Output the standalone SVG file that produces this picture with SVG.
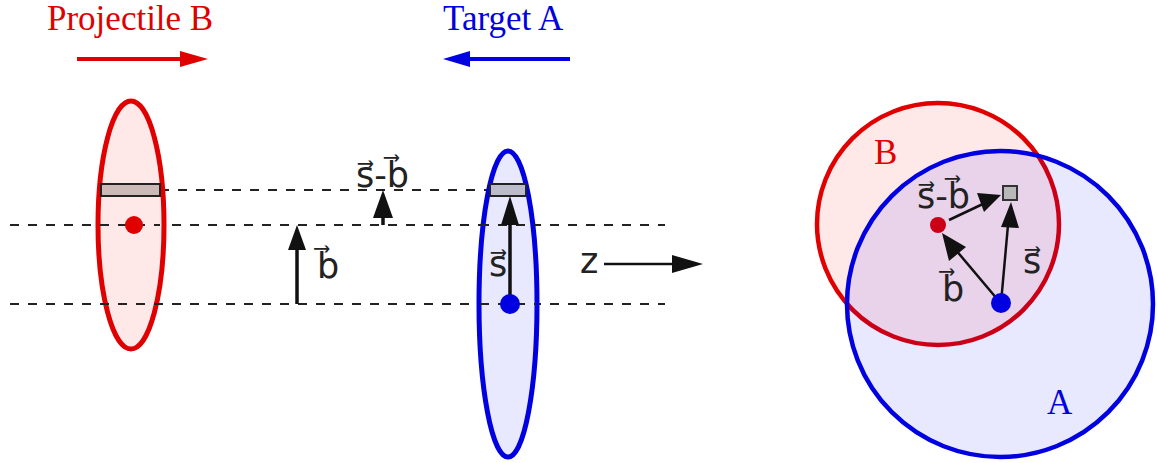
<svg xmlns="http://www.w3.org/2000/svg" width="1158" height="463" viewBox="0 0 1158 463">
<defs>
<style>
.title{font-family:"Liberation Serif","Times New Roman",serif;font-size:35px}
.lbl{font-family:"DejaVu Sans",Verdana,sans-serif;font-size:35px;fill:#222}
.dash{stroke:#222;stroke-width:2;stroke-dasharray:9,9;fill:none}
.vec{stroke:#111;stroke-width:3.5;fill:none}
.vecT{stroke:#111;stroke-width:2.5;fill:none}
</style>
</defs>
<rect width="1158" height="463" fill="#fff"/>

<g id="projectile-title">
<text class="title" x="47" y="30" fill="#e00000">Projectile B</text>
<line x1="77" y1="59" x2="182" y2="59" stroke="#e00000" stroke-width="4"/>
<path d="M180,51 L208,59 L180,67 z" fill="#e00000"/>
</g>
<g id="target-title">
<text class="title" x="443" y="30" fill="#0000e0">Target A</text>
<line x1="570" y1="59" x2="468" y2="59" stroke="#0000e0" stroke-width="4"/>
<path d="M470,51 L443,59 L470,67 z" fill="#0000e0"/>
</g>

<g id="connectors">
<line class="dash" x1="160" y1="190" x2="495" y2="190"/>
<line class="dash" x1="10" y1="225" x2="665" y2="225"/>
<line class="dash" x1="10" y1="304" x2="665" y2="304"/>
</g>

<g id="projectile-B">
<ellipse cx="131" cy="225" rx="33" ry="124" fill="#ffe8e8" stroke="#e00000" stroke-width="5"/>
<rect x="101" y="184" width="59" height="12" fill="#cdb8b8" stroke="#222" stroke-width="2"/>
<line class="dash" x1="10" y1="225" x2="160" y2="225"/>
<line class="dash" x1="10" y1="304" x2="160" y2="304"/>
<circle cx="134" cy="225" r="9" fill="#e00000"/>
</g>

<g id="target-A">
<ellipse cx="508" cy="304" rx="29" ry="153" fill="#e8e8ff" stroke="#0000e0" stroke-width="5"/>
<rect x="490" y="184" width="36" height="12" fill="#bbbbcc" stroke="#222" stroke-width="2"/>
<line class="dash" x1="480" y1="225" x2="536" y2="225"/>
<line class="dash" x1="480" y1="304" x2="536" y2="304"/>
<line class="vec" x1="510" y1="304" x2="510" y2="220"/>
<path d="M501,225 L510,196 L519,225 z" fill="#111"/>
<circle cx="510" cy="304" r="10" fill="#0000e0"/>
<text class="lbl" x="489" y="276">s&#x20D7;</text>
</g>

<g id="b-vector">
<line class="vec" x1="297" y1="304" x2="297" y2="245"/>
<path d="M288,250 L297,225 L306,250 z" fill="#111"/>
<text class="lbl" x="317" y="278">b&#x20D7;</text>
</g>

<g id="sb-vector">
<line class="vec" x1="383" y1="225" x2="383" y2="212"/>
<path d="M373,218 L383,190 L393,218 z" fill="#111"/>
<text class="lbl" x="356" y="187">s&#x20D7;-b&#x20D7;</text>
</g>

<g id="z-axis">
<text class="lbl" x="580" y="273">z</text>
<line class="vecT" x1="604" y1="264" x2="680" y2="264"/>
<path d="M672,255 L703,264 L672,273 z" fill="#111"/>
</g>

<g id="circle-B">
<circle cx="938" cy="224" r="121" fill="#ffe8e8" stroke="#e00000" stroke-width="4.5"/>
<circle cx="938" cy="225" r="8" fill="#e00000"/>
<text class="title" x="874" y="164" fill="#e00000">B</text>
</g>
<g id="circle-A">
<circle cx="1000" cy="304" r="153" fill="#0000ff" fill-opacity="0.09" stroke="none"/>
<circle cx="1000" cy="304" r="153" fill="none" stroke="#0000e0" stroke-width="4.5"/>
<text class="title" x="1047" y="414" fill="#0000e0">A</text>
</g>

<g id="transverse-vectors">
<line class="vecT" x1="949" y1="220" x2="985" y2="203"/>
<path d="M977,193 L1001,195 L984,212 z" fill="#111"/>
<line class="vecT" x1="1001" y1="303" x2="1008" y2="225"/>
<path d="M1001,227 L1011,202 L1019,228 z" fill="#111"/>
<line class="vecT" x1="998" y1="300" x2="955" y2="249"/>
<path d="M949,261 L942,233 L966,247 z" fill="#111"/>
<rect x="1003" y="186" width="14" height="14" fill="#b8b8b8" stroke="#333" stroke-width="2"/>
<circle cx="1001" cy="303" r="10" fill="#0000e0"/>
<text class="lbl" x="917" y="208">s&#x20D7;-b&#x20D7;</text>
<text class="lbl" x="1023" y="273">s&#x20D7;</text>
<text class="lbl" x="942" y="301">b&#x20D7;</text>
</g>
</svg>
